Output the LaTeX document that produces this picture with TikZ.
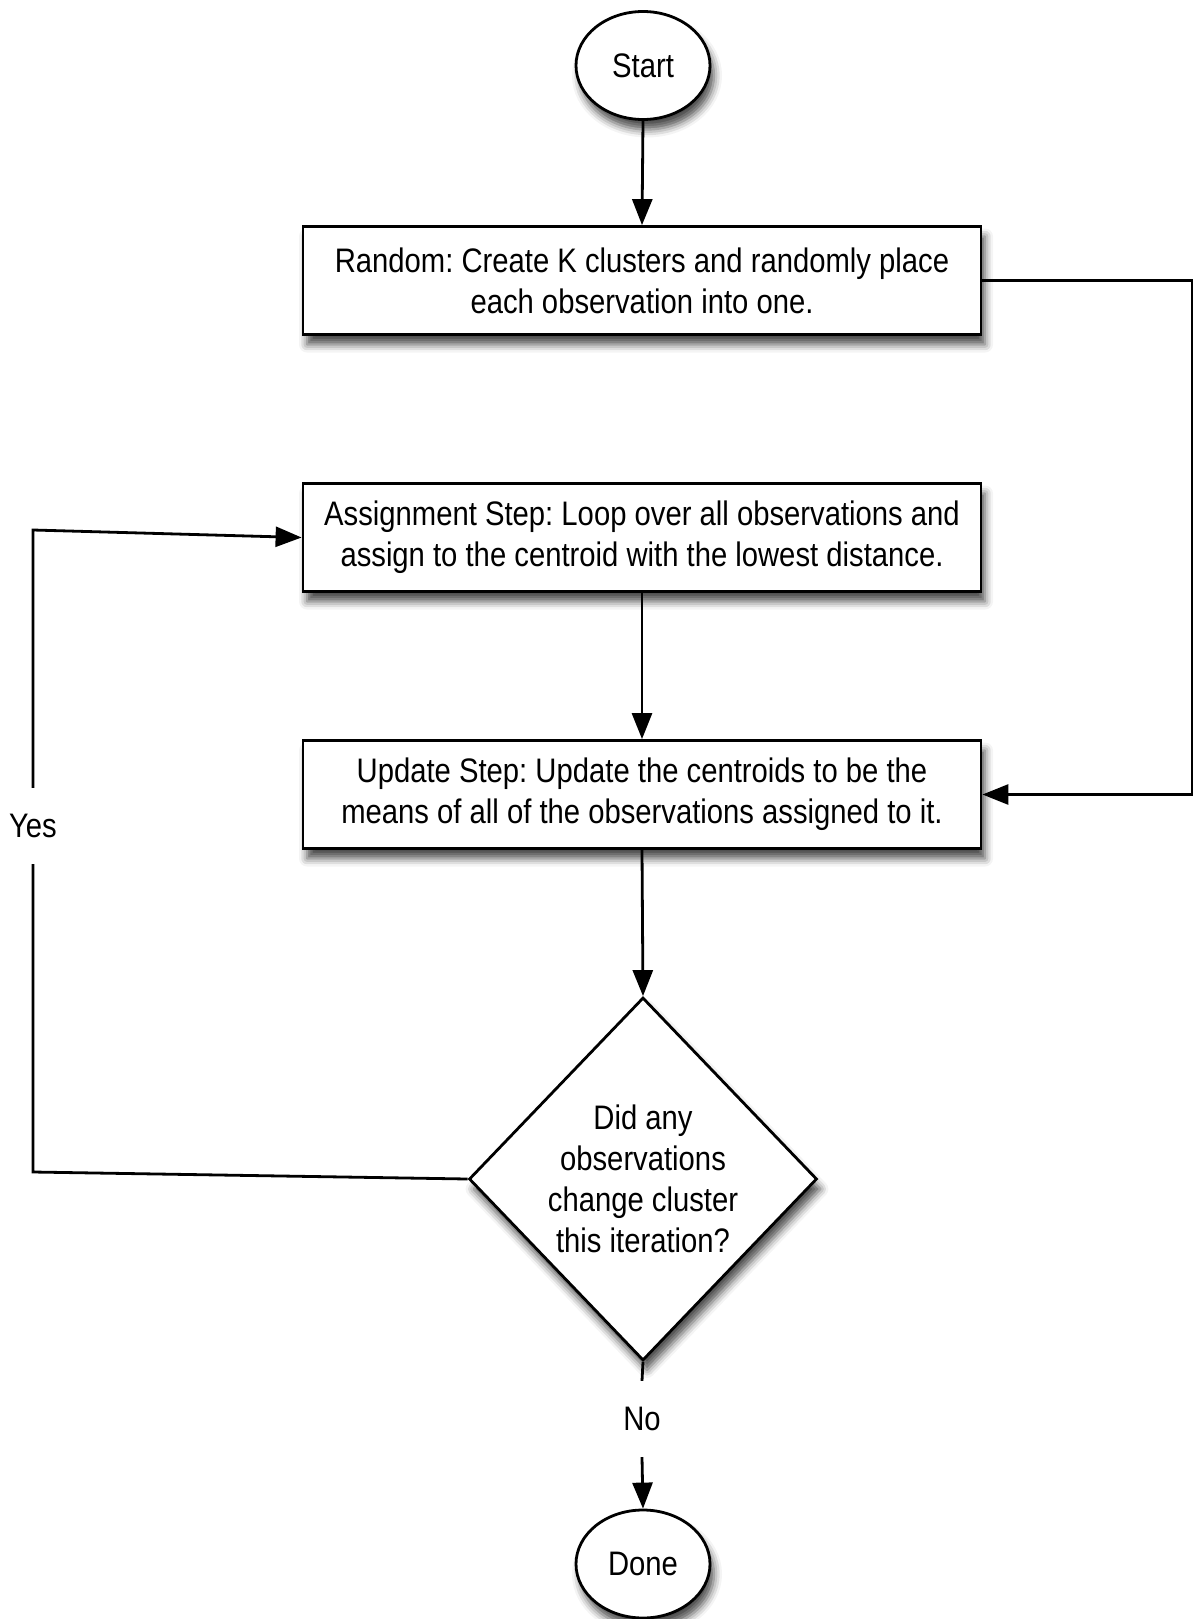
\documentclass[tikz,border=0pt]{standalone}
\usepackage{fontspec}
\setmainfont[FakeStretch=0.86]{Liberation Sans}
\usetikzlibrary{shapes.geometric,arrows.meta,shadows.blur}
\begin{document}
\frenchspacing
\begin{tikzpicture}[x=1pt,y=-1pt,
  every node/.style={font=\fontsize{34}{41}\selectfont},
  shad/.style={blur shadow={shadow xshift=4pt,shadow yshift=-10pt,shadow blur radius=8pt,shadow opacity=70}},
  term/.style={ellipse, draw, line width=2.8pt, fill=white, minimum width=134pt, minimum height=108pt, inner sep=0pt, shad},
  proc/.style={rectangle, draw, line width=2.8pt, fill=white, minimum width=678pt, minimum height=108pt, align=center, inner sep=0pt, shad},
  decide/.style={diamond, draw, line width=2.8pt, fill=white, minimum width=348pt, minimum height=363pt, align=center, inner sep=0pt, shad},
  lbl/.style={inner sep=0pt, minimum height=76pt},
  conn/.style={line width=2.8pt},
  arr/.style={conn, -{Triangle[length=26pt,width=20pt]}}
]
\useasboundingbox (0,0) rectangle (1193,1619);

\node[term] (start) at (643,65.5) {Start};
\node[proc] (random) at (642,280.5) {Random: Create K clusters and randomly place\\each observation into one.};
\node[proc] (assign) at (642,537.5) {Assignment Step: Loop over all observations and\\assign to the centroid with the lowest distance.};
\node[proc] (update) at (642,794.5) {Update Step: Update the centroids to be the\\means of all of the observations assigned to it.};
\node[decide] (decision) at (643,1179) {Did any\\observations\\change cluster\\this iteration?};
\node[term] (done) at (643,1564) {Done};

\node[lbl] (yes) at (33,826) {Yes};
\node[lbl] (no) at (642,1419) {No};

\coordinate (rx) at (1192,0);
\coordinate (yb) at (33,1172);
\coordinate (yt) at (33,530);

\draw[arr] (start.south) -- (random.north);
\draw[arr] (random.east) -- (random.east -| rx) -- (update.east -| rx) -- (update.east);
\draw[arr] (assign.south) -- (update.north);
\draw[arr] (update.south) -- (decision.north);
\draw[conn] (decision.west) -- (yb) -- (yes.south);
\draw[arr] (yes.north) -- (yt) -- (assign.west);
\draw[conn] (decision.south) -- (no.north);
\draw[arr] (no.south) -- (done.north);
\end{tikzpicture}
\end{document}
